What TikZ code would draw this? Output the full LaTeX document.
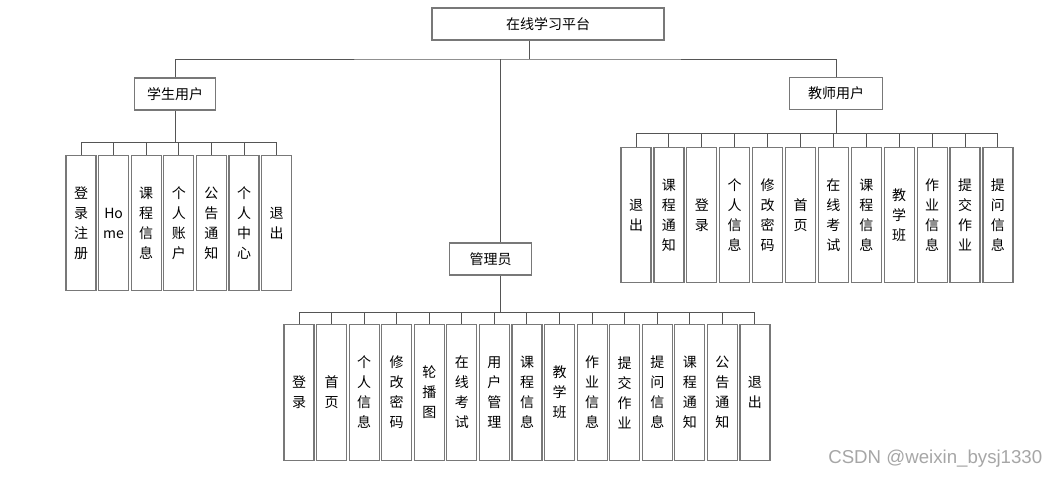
\documentclass[tikz,border=0pt]{standalone}
\usepackage{fontspec}
\setmainfont{Noto Sans CJK SC}
\newfontfamily\wmfont{Liberation Sans}
\usetikzlibrary{positioning}
\definecolor{boxgray}{RGB}{120,120,120}
\definecolor{linegray}{RGB}{85,85,85}

\begin{document}
\begin{tikzpicture}[
  x=0.75pt, y=-0.75pt,
  top/.style={rectangle, draw=boxgray, line width=0.9pt, minimum height=24pt, inner sep=0pt, font=\fontsize{10.5}{15}\selectfont},
  leaf/.style={rectangle, draw=boxgray, line width=0.9pt, minimum width=22.5pt, minimum height=101.5pt, inner sep=0pt, align=center, font=\fontsize{10.5}{15}\selectfont},
  link/.style={draw=linegray, line width=0.75pt},
]
  \useasboundingbox (0,0) rectangle (1062,479);

  % Top level
  \node[top, minimum width=174pt] (root) at (548,24) {在线学习平台};
  \node[top, minimum width=61pt] (stu) at (175,94) {学生用户};
  \node[top, minimum width=70pt] (tea) at (836,93.5) {教师用户};
  \node[top, minimum width=61pt] (adm) at (490.5,259) {管理员};

  \coordinate (hub) at (529,59);
  \coordinate (amid) at (500,59);
  \draw[link] (hub |- root.south) -- (hub);
  \draw[link] (stu.north) |- (hub) -| (tea.north);
  \draw[link] (amid) -- (amid |- adm.north);

  % Student branch
  \coordinate (sbus) at (175,142);
  \foreach \lbl [count=\i] in {{登\\录\\注\\册},{Ho\\me},{课\\程\\信\\息},{个\\人\\账\\户},{公\\告\\通\\知},{个\\人\\中\\心},{退\\出}}
    \node[leaf] (s\i) at ({81+(\i-1)*32.6},223) {\lbl};
  \draw[link] (stu.south) -- (sbus);
  \draw[link] (s1.north |- sbus) -- (s7.north |- sbus);
  \foreach \i in {1,...,7}
    \draw[link] (s\i.north) -- (s\i.north |- sbus);

  % Teacher branch
  \coordinate (tbus) at (836,133);
  \foreach \lbl [count=\i] in {{退\\出},{课\\程\\通\\知},{登\\录},{个\\人\\信\\息},{修\\改\\密\\码},{首\\页},{在\\线\\考\\试},{课\\程\\信\\息},{教\\学\\班},{作\\业\\信\\息},{提\\交\\作\\业},{提\\问\\信\\息}}
    \node[leaf] (t\i) at ({636+(\i-1)*32.9},215) {\lbl};
  \draw[link] (tea.south) -- (tbus);
  \draw[link] (t1.north |- tbus) -- (t12.north |- tbus);
  \foreach \i in {1,...,12}
    \draw[link] (t\i.north) -- (t\i.north |- tbus);

  % Admin branch
  \coordinate (abus) at (500,312);
  \foreach \lbl [count=\i] in {{登\\录},{首\\页},{个\\人\\信\\息},{修\\改\\密\\码},{轮\\播\\图},{在\\线\\考\\试},{用\\户\\管\\理},{课\\程\\信\\息},{教\\学\\班},{作\\业\\信\\息},{提\\交\\作\\业},{提\\问\\信\\息},{课\\程\\通\\知},{公\\告\\通\\知},{退\\出}}
    \node[leaf] (a\i) at ({299+(\i-1)*32.57},392.5) {\lbl};
  \draw[link] (abus |- adm.south) -- (abus);
  \draw[link] (a1.north |- abus) -- (a15.north |- abus);
  \foreach \i in {1,...,15}
    \draw[link] (a\i.north) -- (a\i.north |- abus);

  % Watermark
  \node[font=\wmfont\fontsize{14}{16}\selectfont, text=gray!70, anchor=east] (mark) at (1047,459) {CSDN @weixin\_bysj1330};
\end{tikzpicture}
\end{document}
